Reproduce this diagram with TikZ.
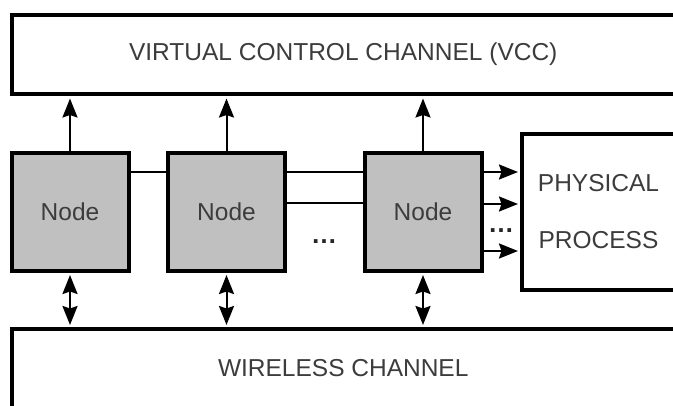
\documentclass[tikz,border=0pt]{standalone}
\usepackage{fontspec}
\setmainfont{Liberation Sans}
\usetikzlibrary{arrows.meta}
\definecolor{nodegray}{RGB}{192,192,192}
\definecolor{labelgray}{RGB}{60,60,60}
\tikzset{
  box/.style={draw=black, line width=4pt, fill=white, inner sep=0pt,
    text=labelgray, font=\fontsize{24.5}{29}\selectfont},
  unit/.style={box, fill=nodegray, minimum width=117pt, minimum height=118pt},
  link/.style={draw=black, line width=2pt},
  head/.style={arrows={-Stealth[length=19pt,width=15pt,inset=2.5pt]}},
  arr/.style={link, head},
  dbl/.style={link, arrows={Stealth[length=19pt,width=15pt,inset=2.5pt]-Stealth[length=19pt,width=15pt,inset=2.5pt]}},
  gapdots/.style={inner sep=0pt, text=black!85, font=\fontsize{26}{30}\selectfont\bfseries}
}
\begin{document}
\begin{tikzpicture}[x=1pt,y=-1pt]
\useasboundingbox (0,0) rectangle (673,405);

% channels (they run past the right edge)
\node[box, minimum width=663.5pt, minimum height=78.5pt] (vcc) at (343.25,54.25)
  {VIRTUAL CONTROL CHANNEL (VCC)};
\node[box, minimum width=663.5pt, minimum height=79pt] (wl) at (343.25,368.5)
  {WIRELESS CHANNEL};

% plant
\node[box, minimum width=153pt, minimum height=156.5pt, align=center,
  font=\fontsize{24.5}{57}\selectfont] (pp) at (598.5,211.75) {PHYSICAL\\PROCESS};

% nodes
\node[unit] (n1) at (70,212) {Node};
\node[unit] (n2) at (226.5,212) {Node};
\node[unit] (n3) at (423,212) {Node};

% links to both channels
\foreach \n in {n1,n2,n3} {
  \draw[arr, shorten >=3pt] (\n.north) -- (\n.north |- vcc.south);
  \draw[dbl, shorten <=2pt, shorten >=2pt] (\n.south) -- (\n.south |- wl.north);
}

% wired links between nodes
\draw[link] (n1.east |- 0,172) -- (n2.west |- 0,172);
\draw[link] (n2.east |- 0,172) -- (n3.west |- 0,172);
\draw[link] (n2.east |- 0,203) -- (n3.west |- 0,203);
\node[gapdots] (gapa) at (324,242) {…};

% actuation links to the plant
\draw[arr, shorten >=2pt] (n3.east |- 0,172) -- (pp.west |- 0,172);
\draw[arr, shorten >=2pt] (n3.east |- 0,204) -- (pp.west |- 0,204);
\draw[arr, shorten >=2pt] (n3.east |- 0,251) -- (pp.west |- 0,251);
\node[gapdots] (gapb) at (501,231) {…};
\end{tikzpicture}
\end{document}
